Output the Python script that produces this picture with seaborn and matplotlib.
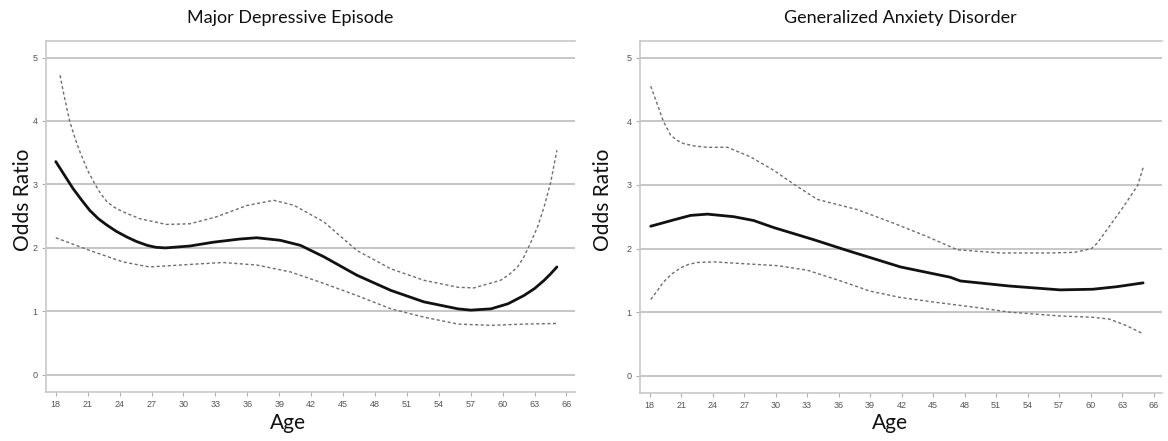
import matplotlib

matplotlib.use("Agg")
import numpy as np
import pandas as pd
import seaborn as sns
from matplotlib import pyplot as plt

# Major Depressive Episode: odds ratio curve and 95% CI bounds
mde_or_age = [18, 18.8, 19.6, 20.4, 21.2, 22, 22.8, 23.7, 24.7, 25.6, 26.6, 27.4, 28.3, 30.6, 32.8, 35.3,
              36.9, 39.1, 41, 43.2, 46.3, 49.5, 52.6, 55.8, 57, 58.9, 60.5, 62, 63, 63.9, 64.5, 65.1]
mde_or = [3.36, 3.15, 2.94, 2.76, 2.59, 2.46, 2.36, 2.26, 2.17, 2.10, 2.04, 2.01, 2.0, 2.03, 2.09, 2.14,
          2.16, 2.12, 2.04, 1.86, 1.57, 1.33, 1.15, 1.04, 1.02, 1.04, 1.12, 1.25, 1.36, 1.49, 1.59, 1.70]
mde_upper_age = [18.4, 18.8, 19.3, 19.8, 20.3, 21, 21.7, 22.2, 22.8, 23.5, 24.3, 25.9, 28.4, 30.6, 33.1,
                 36, 38.5, 40.4, 43.2, 46.3, 49.5, 52.6, 55.8, 57.3, 59.8, 60.6, 61.4, 62, 62.6, 63.3,
                 63.9, 64.5, 65.1]
mde_upper = [4.72, 4.38, 4.0, 3.73, 3.5, 3.22, 3.0, 2.86, 2.73, 2.64, 2.57, 2.46, 2.37, 2.38, 2.49,
             2.67, 2.75, 2.67, 2.41, 1.96, 1.67, 1.49, 1.38, 1.37, 1.49, 1.58, 1.70, 1.86, 2.07, 2.34,
             2.65, 3.02, 3.54]
mde_lower_age = [18, 21.2, 24.3, 26.8, 30.6, 33.7, 36.9, 40.1, 43.2, 46.3, 49.5, 52.6, 55.8, 58.9, 62, 65.1]
mde_lower = [2.16, 1.96, 1.78, 1.70, 1.74, 1.77, 1.73, 1.62, 1.44, 1.25, 1.04, 0.91, 0.80, 0.78, 0.80, 0.81]

# Generalized Anxiety Disorder
gad_or_age = [18.1, 20.3, 21.9, 23.5, 26, 27.9, 29.8, 33.6, 36.8, 41.9, 46.6, 47.6, 52.3, 57.1, 60.2,
              62.5, 65]
gad_or = [2.35, 2.45, 2.52, 2.54, 2.50, 2.44, 2.33, 2.14, 1.97, 1.71, 1.55, 1.49, 1.41, 1.35, 1.36,
          1.40, 1.46]
gad_upper_age = [18.1, 18.7, 19.3, 20, 20.6, 21.2, 22.3, 23.5, 25.4, 27.6, 29.8, 32.1, 34, 37.8, 41.2,
                 44.4, 47.3, 51.4, 56.1, 58.5, 60.1, 60.6, 61.1, 62.1, 63.1, 64, 64.5, 65]
gad_upper = [4.55, 4.28, 4.0, 3.78, 3.70, 3.65, 3.61, 3.59, 3.59, 3.44, 3.23, 2.97, 2.77, 2.61, 2.40,
             2.19, 1.98, 1.93, 1.93, 1.94, 2.0, 2.08, 2.19, 2.42, 2.65, 2.87, 3.0, 3.27]
gad_lower_age = [18.1, 18.7, 19.3, 20.1, 21, 21.7, 22.5, 24.1, 27.1, 30.2, 33, 36.2, 39, 41.9, 45, 49.3,
                 52.3, 57.1, 60.2, 61.8, 63.4, 65]
gad_lower = [1.2, 1.33, 1.47, 1.60, 1.70, 1.75, 1.78, 1.79, 1.76, 1.73, 1.66, 1.49, 1.33, 1.23, 1.16,
             1.07, 1.0, 0.94, 0.92, 0.89, 0.79, 0.66]

age_ticks = list(range(18, 67, 3))
or_ticks = [0, 1, 2, 3, 4, 5]

panels = [
    ("Major Depressive Episode", mde_or_age, mde_or, mde_upper_age, mde_upper, mde_lower_age, mde_lower),
    ("Generalized Anxiety Disorder", gad_or_age, gad_or, gad_upper_age, gad_upper, gad_lower_age, gad_lower),
]

sns.set_theme(style="white")
plt.rcParams["font.family"] = ["Lato", "DejaVu Sans"]

fig = plt.figure(figsize=(11.68, 4.41), dpi=100)
axes_pos = [
    [46 / 1168, 1 - 392 / 441, 529 / 1168, 351 / 441],
    [640 / 1168, 1 - 393 / 441, 522 / 1168, 352 / 441],
]
title_x = [290 / 1168, 900 / 1168]
xlabel_x = [288 / 1168, 890 / 1168]
ylabel_x = [23 / 1168, 603 / 1168]
grid_col = "#c6c6c6"

for i, (title, or_age, or_val, up_age, up_val, lo_age, lo_val) in enumerate(panels):
    ax = fig.add_axes(axes_pos[i])
    for y in or_ticks:
        ax.axhline(y, color=grid_col, lw=1.4, zorder=0)

    band_kw = dict(color="#6e6e6e", lw=1.0, dashes=(2.2, 1.8), estimator=None, sort=False, ax=ax)
    sns.lineplot(x=pd.Series(up_age), y=pd.Series(up_val), **band_kw)
    sns.lineplot(x=pd.Series(lo_age), y=pd.Series(lo_val), **band_kw)
    sns.lineplot(x=pd.Series(or_age), y=pd.Series(or_val), color="#111111", lw=2.0,
                 estimator=None, sort=False, ax=ax)

    ax.set_xlim(17.08, 66.8)
    ax.set_ylim(-0.27, 5.26)
    ax.set_xticks(age_ticks)
    ax.set_yticks(or_ticks)
    ax.set_xticklabels([str(a) for a in age_ticks], family="Liberation Sans", fontsize=6.5, color="#555555")
    ax.set_yticklabels([str(v) for v in or_ticks], family="Liberation Sans", fontsize=6.5, color="#555555")
    ax.tick_params(axis="both", which="both", direction="out", length=3, width=0.8, color="#b0b0b0",
                   bottom=True, left=True, pad=3)
    ax.set_xlabel("")
    ax.set_ylabel("")
    for side in ["left", "bottom", "top"]:
        ax.spines[side].set_color("#c8c8c8")
        ax.spines[side].set_linewidth(1.2)
    ax.spines["right"].set_visible(False)

    fig.text(title_x[i], 1 - 18 / 441, title, ha="center", va="center", fontsize=13, color="#111111")
    fig.text(xlabel_x[i], 1 - 423 / 441, "Age", ha="center", va="center", fontsize=15, color="#111111")
    fig.text(ylabel_x[i], 1 - 200 / 441, "Odds Ratio", ha="center", va="center", rotation=90,
             fontsize=15, color="#111111")

plt.savefig("out.png", dpi=100)
plt.close()
